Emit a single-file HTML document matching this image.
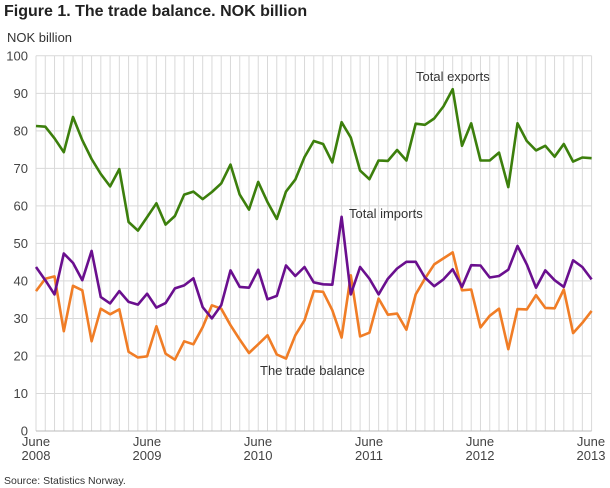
<!DOCTYPE html>
<html><head><meta charset="utf-8"><style>
body{margin:0;background:#fff;width:610px;height:488px;overflow:hidden;font-family:"Liberation Sans",sans-serif;}
svg{position:absolute;left:0;top:0}
</style></head><body>
<svg id="s" width="610" height="488" xmlns="http://www.w3.org/2000/svg" font-family="Liberation Sans, sans-serif">
<text x="4" y="16" font-size="16" font-weight="bold" fill="#222">Figure 1. The trade balance. NOK billion</text>
<text x="7" y="42" font-size="13" fill="#333">NOK billion</text>
<g id="grid"></g>
<g font-size="13" fill="#444" text-anchor="end" id="yl"></g>
<g font-size="13" fill="#444" text-anchor="middle">
<text x="36" y="446">June</text><text x="36" y="460">2008</text>
<text x="147" y="446">June</text><text x="147" y="460">2009</text>
<text x="258" y="446">June</text><text x="258" y="460">2010</text>
<text x="369" y="446">June</text><text x="369" y="460">2011</text>
<text x="480" y="446">June</text><text x="480" y="460">2012</text>
<text x="591" y="446">June</text><text x="591" y="460">2013</text>
</g>
<g id="lines"></g>
<g font-size="13" fill="#333">
<text x="416" y="81">Total exports</text>
<text x="349" y="218">Total imports</text>
<text x="260" y="375">The trade balance</text>
</g>
<text x="4" y="484" font-size="10.5" fill="#333">Source: Statistics Norway.</text>
</svg>
<script>
var X0=36,DX=9.26,Y0=431,SY=3.752;
var ex=[81.3,81.1,78,74.3,83.7,77.5,72.5,68.5,65.2,69.8,55.7,53.4,57,60.7,55,57.3,63,63.8,61.8,63.7,66,71,63,59,66.4,61,56.5,63.8,67,73,77.3,76.5,71.6,82.3,78.2,69.4,67.1,72.1,72,74.9,72.1,81.9,81.6,83.3,86.5,91.1,76,82,72.1,72.1,74.2,65,82,77.3,74.8,76,73.1,76.5,71.8,72.9,72.7];
var im=[43.7,40.2,36.4,47.3,44.8,40.2,48,35.7,34,37.3,34.4,33.7,36.6,32.9,34.1,38,38.8,40.7,33,30,33.5,42.8,38.4,38.2,43,35.1,36,44.1,41.3,43.7,39.6,39.1,39,57.1,36.4,43.7,40.6,36.4,40.6,43.3,45.1,45.1,40.9,38.6,40.4,43.1,38.4,44.2,44.1,40.9,41.3,43,49.3,44.4,38.2,42.8,40.2,38.4,45.5,43.7,40.4];
var ba=[37.3,40.6,41.2,26.6,38.7,37.5,23.9,32.6,31.1,32.4,21.1,19.6,19.9,27.9,20.6,19,23.9,23.1,27.7,33.5,32.6,28.2,24.4,20.8,23.1,25.5,20.4,19.3,25.5,29.5,37.3,37.1,32.2,24.9,41.5,25.2,26.2,35.3,31,31.3,27,36.4,40.6,44.4,46,47.6,37.5,37.7,27.6,30.7,32.6,21.8,32.5,32.4,36.2,32.8,32.7,37.7,26.1,28.8,32];
var NS="http://www.w3.org/2000/svg";
function el(p,t,a){var e=document.createElementNS(NS,t);for(var k in a)e.setAttribute(k,a[k]);p.appendChild(e);return e;}
var g=document.getElementById('grid'),yl=document.getElementById('yl'),L=document.getElementById('lines');
for(var i=0;i<=60;i++){var x=X0+i*DX;el(g,'line',{x1:x,x2:x,y1:55.7,y2:Y0,stroke:'#d9d9d9','stroke-width':1});}
for(var v=0;v<=100;v+=10){var y=Y0-v*SY;el(g,'line',{x1:X0,x2:X0+60*DX,y1:y,y2:y,stroke:v==0?'#bbb':'#d9d9d9','stroke-width':1});var t=el(yl,'text',{x:28,y:y+4.5});t.textContent=v;}
function pl(d,c){el(L,'polyline',{points:d.map(function(v,i){return (X0+i*DX).toFixed(1)+','+(Y0-v*SY).toFixed(1)}).join(' '),fill:'none',stroke:c,'stroke-width':2.6,'stroke-linejoin':'round'});}
pl(ba,'#f07d26');pl(im,'#6a0f8e');pl(ex,'#3c7f0c');
</script>
</body></html>
